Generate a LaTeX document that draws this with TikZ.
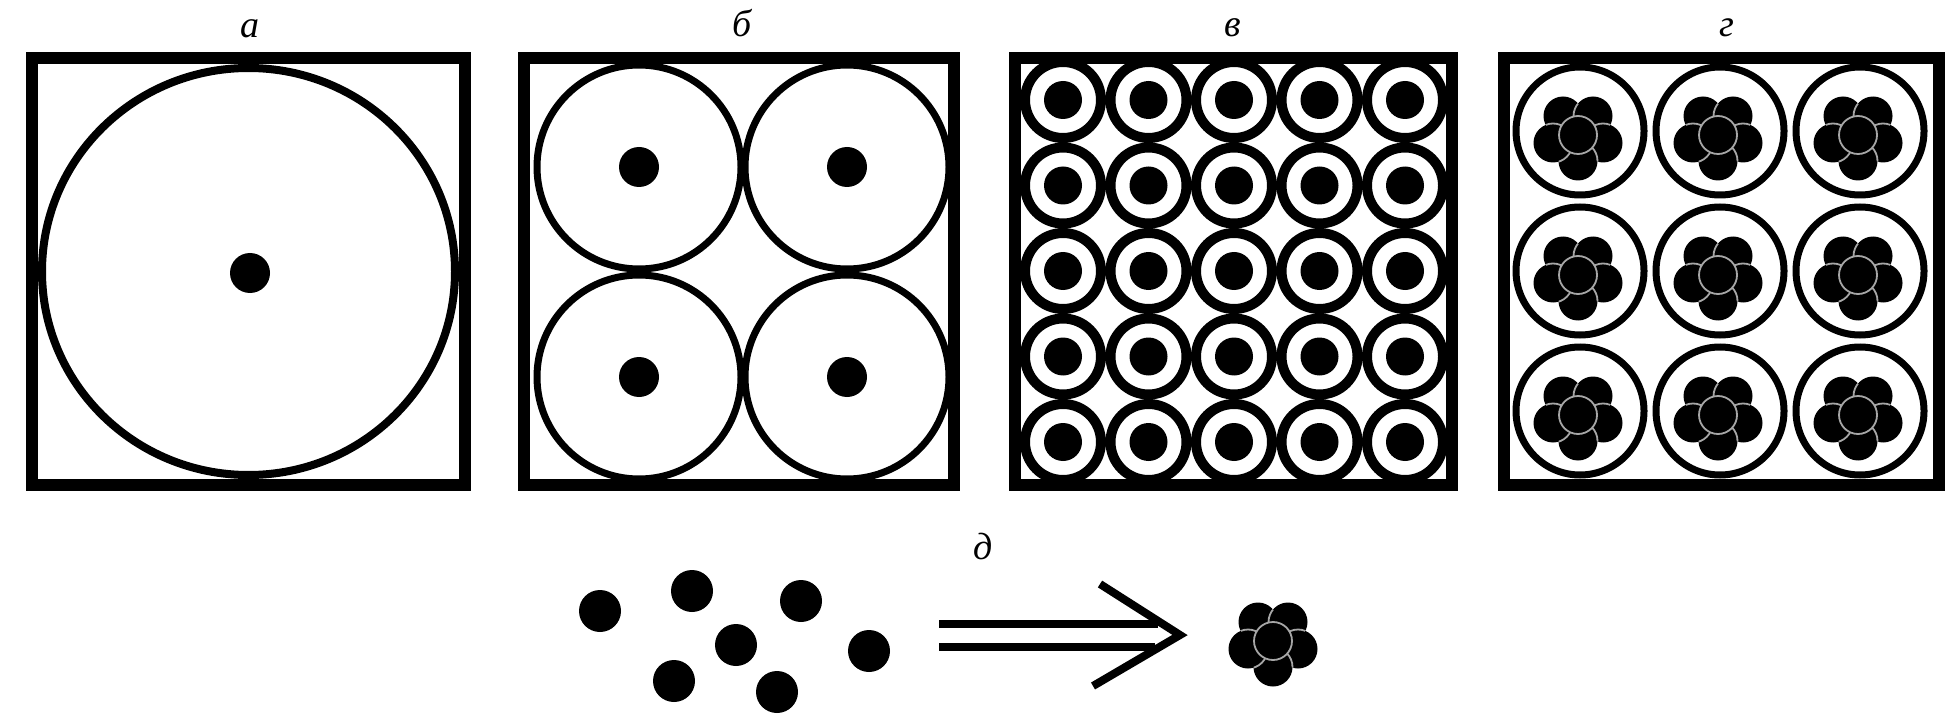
\documentclass[tikz,border=0pt]{standalone}
\usepackage{fontspec}
\setmainfont{Liberation Serif}
\tikzset{
  frame/.style={line width=12pt},
  seam/.style={draw=black!35, line width=1.8pt},
  lab/.style={font=\fontsize{38}{40}\selectfont\itshape, anchor=base, inner sep=0pt},
  bigring/.style={line width=8pt},
  midring/.style={line width=7pt},
  smallring/.style={line width=10pt},
  dblarrow/.style={line width=8pt, line join=miter},
}
\newcommand\bTL{(-15,-19) circle[radius=19.5pt]}
\newcommand\bTR{(15,-19) circle[radius=19.5pt]}
\newcommand\bRR{(25,8) circle[radius=19.5pt]}
\newcommand\bBB{(0,26) circle[radius=19.5pt]}
\newcommand\bLL{(-25,8) circle[radius=19.5pt]}
% cluster of six blobs, centre blob at (#1,#2)
\newcommand\blobcluster[2]{%
  \begin{scope}[shift={(#1,#2)}]
    \fill \bTL \bTR \bRR \bBB \bLL;
    \begin{scope}\clip \bTL; \draw[seam] \bTR;\end{scope}
    \begin{scope}\clip \bTL \bTR; \draw[seam] \bRR;\end{scope}
    \begin{scope}\clip \bTL \bTR \bRR; \draw[seam] \bBB;\end{scope}
    \begin{scope}\clip \bTL \bTR \bRR \bBB; \draw[seam] \bLL;\end{scope}
    \fill (0,0) circle[radius=19pt];
    \begin{scope}\clip \bTL \bTR \bRR \bBB \bLL; \draw[seam] (0,0) circle[radius=19pt];\end{scope}
  \end{scope}}
\begin{document}
\begin{tikzpicture}[x=1pt,y=-1pt]
\useasboundingbox (0,0) rectangle (1956,727);
% labels
\node[lab] (la) at (250,38) {а};
\node[lab] (lb) at (742,37) {б};
\node[lab] (lv) at (1233,37) {в};
\node[lab] (lg) at (1727,37) {г};
\node[lab] (ld) at (983,559) {д};
% panel a
\draw[frame] (32,58) rectangle (465,485);
\draw[bigring] (248.5,271.5) ellipse[x radius=206.5pt, y radius=203.5pt];
\fill (250,273) circle[radius=20pt];
% panel b
\draw[frame] (524,58) rectangle (954,485);
\foreach \cx in {639,847}{
  \foreach \cy in {167,377}{
    \draw[midring] (\cx,\cy) circle[radius=102pt];
    \fill (\cx,\cy) circle[radius=20pt];
  }}
% panel v
\draw[frame] (1015,58) rectangle (1452,485);
\foreach \i in {0,...,4}{
  \foreach \j in {0,...,4}{
    \draw[smallring] (1063+85.5*\i,100+85.5*\j) circle[radius=38pt];
    \fill (1063+85.5*\i,100+85.5*\j) circle[radius=19pt];
  }}
% panel g
\draw[frame] (1504,58) rectangle (1939,485);
\foreach \cx in {1580,1720,1860}{
  \foreach \cy in {131,271,411}{
    \draw[midring] (\cx,\cy) circle[radius=64pt];
    \blobcluster{\cx-2}{\cy+4}
  }}
% panel d
\foreach \p in {(600,611),(692,591),(801,601),(736,645),(869,651),(674,681),(777,692)}{
  \fill \p circle[radius=21pt];
}
\coordinate (a1) at (939,624);
\coordinate (a2) at (939,647);
\coordinate (e1) at (1158,624);
\coordinate (e2) at (1155,647);
\coordinate (h1) at (1100,584);
\coordinate (tip) at (1180,635);
\coordinate (h2) at (1093,686);
\draw[dblarrow] (a1) -- (e1);
\draw[dblarrow] (a2) -- (e2);
\draw[dblarrow] (h1) -- (tip) -- (h2);
\blobcluster{1273}{641}
\end{tikzpicture}
\end{document}
